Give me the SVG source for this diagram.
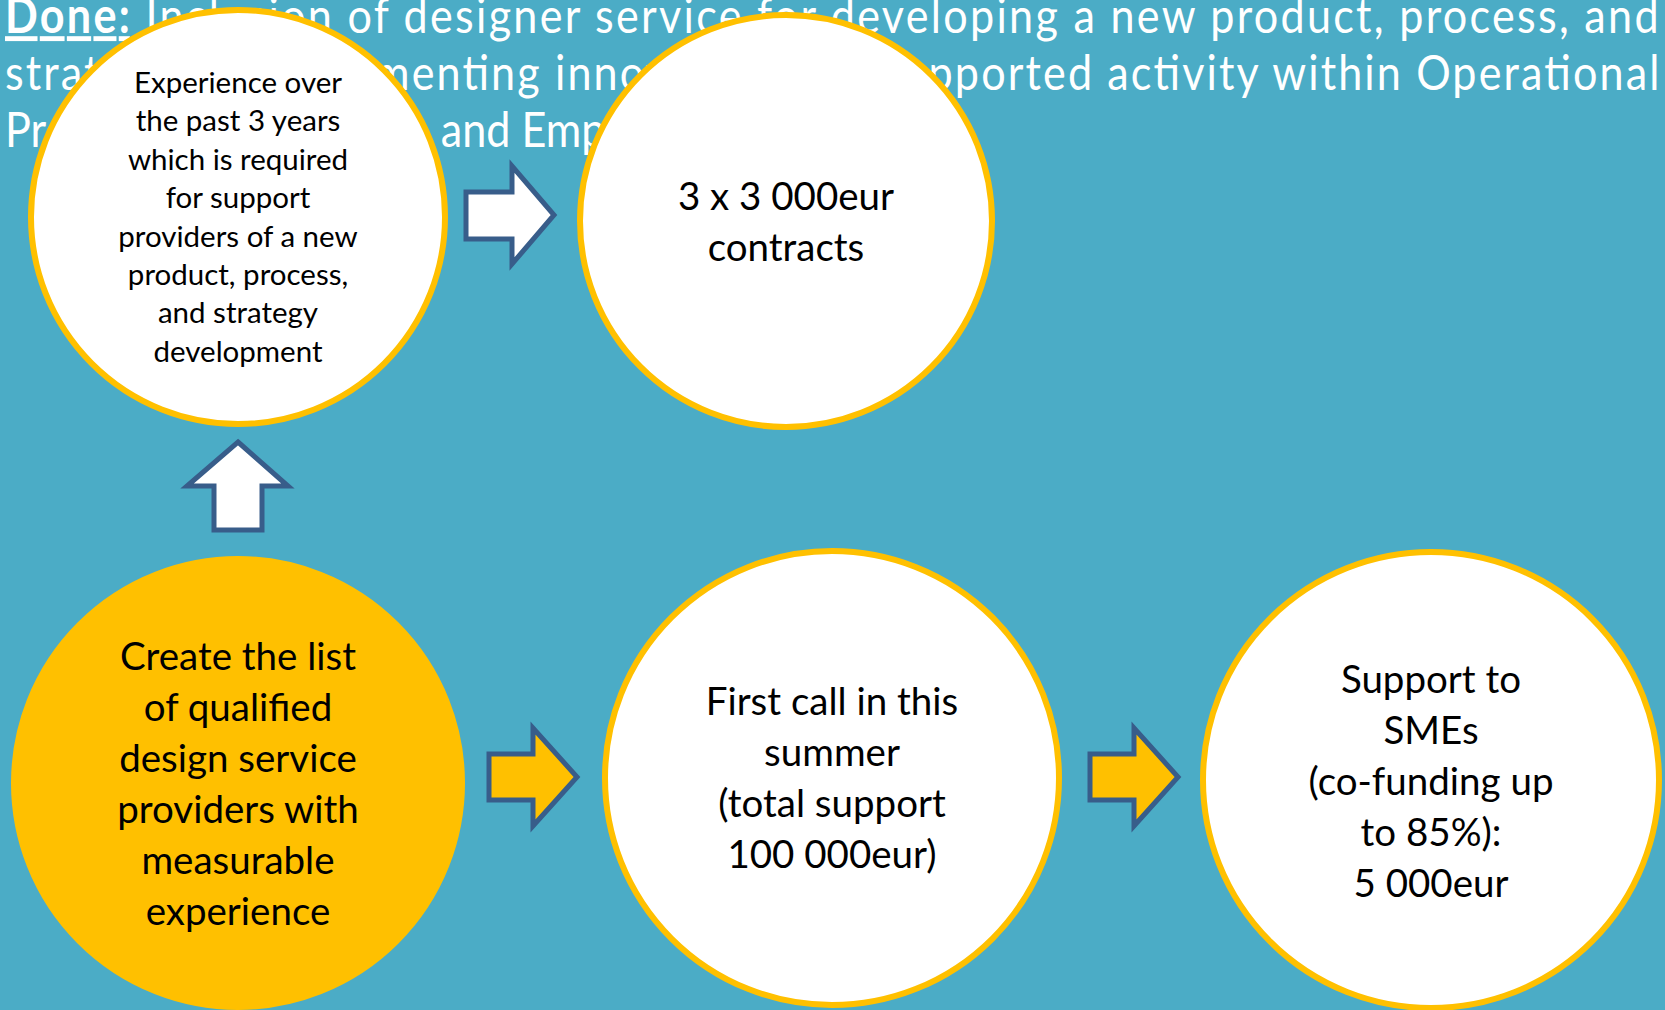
<svg xmlns="http://www.w3.org/2000/svg" width="1665" height="1010" viewBox="0 0 1665 1010">
<style>
  .hdr { font-family: Lato, "Open Sans", sans-serif; font-size: 49px; fill: #FFFFFF; }
  .done { font-weight: bold; text-decoration: underline; }
  .circ { fill: #FFFFFF; stroke: #FFC000; stroke-width: 6; }
  .circ-o { fill: #FFC000; stroke: #FFC000; stroke-width: 6; }
  .t-s { font-family: Lato, "Open Sans", sans-serif; font-size: 29.5px; fill: #000000; text-anchor: middle; }
  .t-l { font-family: Lato, "Open Sans", sans-serif; font-size: 38.5px; fill: #000000; text-anchor: middle; }
  .arr-w { fill: #FFFFFF; stroke: #385D8A; stroke-width: 5; stroke-linejoin: miter; }
  .arr-o { fill: #FFC000; stroke: #385D8A; stroke-width: 5; stroke-linejoin: miter; }
</style>
<rect x="0" y="0" width="1665" height="1010" fill="#4BACC6"/>
<g id="header" transform="scale(0.88 1)">
  <text class="hdr" x="5.7" y="33" textLength="1879" lengthAdjust="spacing"><tspan class="done">Done:</tspan> Inclusion of designer service for developing a new product, process, and</text>
  <text class="hdr" x="5.7" y="90" textLength="1880" lengthAdjust="spacing">strategy for implementing innovation as a supported activity within Operational</text>
  <text class="hdr" x="5.7" y="147">Programme Growth</text>
  <text class="hdr" x="501" y="147">and Employment</text>
</g>
<g id="connectors">
  <polygon id="arrow-up" class="arr-w" points="238,442 288,486 262,486 262,530 214,530 214,486 187,486"/>
  <polygon id="arrow-top" class="arr-w" points="466,192 512,192 512,166 554,215 512,264 512,239 466,239"/>
  <polygon id="arrow-bottom-1" class="arr-o" points="489,754 533,754 533,728 577,777 533,826 533,800 489,800"/>
  <polygon id="arrow-bottom-2" class="arr-o" points="1090,754 1134,754 1134,728 1178,777 1134,826 1134,800 1090,800"/>
</g>
<g id="node-experience">
  <circle class="circ" cx="238" cy="217" r="207"/>
  <text class="t-s" x="238" y="93">Experience over</text>
  <text class="t-s" x="238" y="131">the past 3 years</text>
  <text class="t-s" x="238" y="170">which is required</text>
  <text class="t-s" x="238" y="208">for support</text>
  <text class="t-s" x="238" y="247">providers of a new</text>
  <text class="t-s" x="238" y="285">product, process,</text>
  <text class="t-s" x="238" y="323">and strategy</text>
  <text class="t-s" x="238" y="362">development</text>
</g>
<g id="node-contracts">
  <circle class="circ" cx="786" cy="221" r="206"/>
  <text class="t-l" x="786" y="210">3 x 3 000eur</text>
  <text class="t-l" x="786" y="261">contracts</text>
</g>
<g id="node-create-list">
  <circle class="circ-o" cx="238" cy="783" r="224"/>
  <text class="t-l" x="238" y="670">Create the list</text>
  <text class="t-l" x="238" y="721">of qualified</text>
  <text class="t-l" x="238" y="772">design service</text>
  <text class="t-l" x="238" y="823">providers with</text>
  <text class="t-l" x="238" y="874">measurable</text>
  <text class="t-l" x="238" y="925">experience</text>
</g>
<g id="node-first-call">
  <circle class="circ" cx="832" cy="778" r="227"/>
  <text class="t-l" x="832" y="715">First call in this</text>
  <text class="t-l" x="832" y="766">summer</text>
  <text class="t-l" x="832" y="817">(total support</text>
  <text class="t-l" x="832" y="868">100 000eur)</text>
</g>
<g id="node-support-smes">
  <circle class="circ" cx="1431" cy="780" r="228"/>
  <text class="t-l" x="1431" y="693">Support to</text>
  <text class="t-l" x="1431" y="744">SMEs</text>
  <text class="t-l" x="1431" y="795">(co-funding up</text>
  <text class="t-l" x="1431" y="846">to 85%):</text>
  <text class="t-l" x="1431" y="897">5 000eur</text>
</g>
</svg>
